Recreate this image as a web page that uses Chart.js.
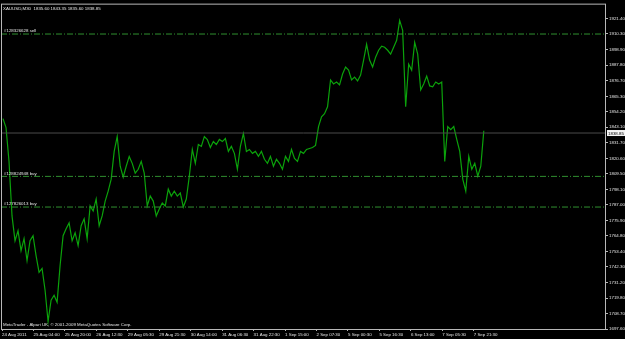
<!DOCTYPE html>
<html>
<head>
<meta charset="utf-8">
<script src="https://cdn.jsdelivr.net/npm/chart.js@4/dist/chart.umd.min.js"></script>
<style>
  html, body { margin: 0; padding: 0; background: #000; }
</style>
</head>
<body>
<canvas id="chart" width="625" height="339"></canvas>
<script>
// XAUUSD M30 closes, one sample every 3 bars
const closes = [
  1849.2, 1842.8, 1818.4, 1779.1, 1761.2, 1768.4, 1754.1, 1762.7, 1746.9, 1761.2,
  1764.8, 1750.5, 1738.4, 1741.2, 1725.5, 1703.0, 1718.3, 1721.9, 1716.9, 1743.4,
  1764.8, 1769.8, 1774.1, 1761.2, 1767.0, 1757.7, 1772.0, 1777.0, 1762.7, 1786.3,
  1782.7, 1791.3, 1772.0, 1779.1, 1789.8, 1797.0, 1805.6, 1825.6, 1836.3, 1814.9,
  1807.0, 1814.9, 1822.0, 1817.0, 1809.9, 1812.7, 1818.4, 1809.9, 1786.3, 1793.4,
  1789.8, 1779.1, 1784.1, 1788.4, 1786.3, 1798.4, 1793.4, 1797.0, 1793.4, 1795.6,
  1785.5, 1791.3, 1807.7, 1827.0, 1817.0, 1830.6, 1829.2, 1836.3, 1834.2, 1828.4,
  1832.7, 1830.6, 1834.2, 1832.7, 1834.9, 1825.6, 1829.2, 1824.2, 1812.7, 1829.2,
  1838.5, 1825.6, 1827.0, 1824.2, 1825.6, 1822.0, 1825.6, 1819.9, 1817.0, 1822.0,
  1814.9, 1819.9, 1817.0, 1812.7, 1822.0, 1818.4, 1827.0, 1820.6, 1818.4, 1825.6,
  1824.2, 1827.0, 1827.7, 1828.4, 1829.9, 1843.5, 1850.6, 1852.8, 1857.8, 1877.1,
  1874.2, 1875.6, 1873.5, 1881.4, 1886.4, 1884.2, 1877.1, 1879.2, 1876.4, 1880.6,
  1891.4, 1902.8, 1891.4, 1886.4, 1893.5, 1898.5, 1901.4, 1900.7, 1898.5, 1895.7,
  1900.7, 1905.7, 1920.0, 1912.8, 1857.8, 1888.5, 1884.2, 1904.2, 1895.7, 1869.9,
  1874.2, 1879.9, 1872.8, 1872.1, 1875.6, 1874.2, 1875.6, 1818.4, 1843.5, 1841.3,
  1843.5, 1834.2, 1825.6, 1805.6, 1797.0, 1822.0, 1812.7, 1817.0, 1807.7, 1814.9,
  1840.5
];
const BAR_STEP = 3;

const timeLabels = [
  "24 Aug 2011", "25 Aug 04:00", "25 Aug 20:00", "26 Aug 12:30", "29 Aug 05:30",
  "29 Aug 21:30", "30 Aug 14:00", "31 Aug 06:30", "31 Aug 22:30", "1 Sep 15:00",
  "2 Sep 07:30", "5 Sep 00:30", "5 Sep 16:30", "6 Sep 13:00", "7 Sep 05:30", "7 Sep 21:30"
];
const BARS_PER_LABEL = 31.4;

const priceTicks = [
  1921.40, 1910.30, 1898.90, 1887.80, 1876.70, 1865.30, 1854.20, 1843.10, 1831.70,
  1820.60, 1809.50, 1798.10, 1787.00, 1775.90, 1764.80, 1753.40, 1742.30, 1731.20,
  1719.80, 1708.70, 1697.60
];

const orderLevels = [1910.2, 1807.6, 1785.5];
const orderNames = ["#128326628 sell", "#128824948 buy", "#127826013 buy"];
const lastPrice = 1838.85;
const ohlc = [1835.60, 1843.35, 1835.60, 1838.85];

const X_MIN = -1, X_MAX = 603;
const Y_MIN = 1697.6, Y_MAX = 1932.1;
const FONT = { family: "'Liberation Sans', Arial, sans-serif", size: 4.4 };
const TEXT = "#e4e4e4";
const FRAME = "#b8b8b8";

const hline = (y) => [{ x: X_MIN, y: y }, { x: X_MAX, y: y }];

const datasets = [
  {
    data: hline(lastPrice),
    borderColor: "#4a4a4a",
    borderWidth: 1,
    pointRadius: 0,
  },
  ...orderLevels.map((lvl) => ({
    data: hline(lvl),
    borderColor: "#2f8f2f",
    borderWidth: 1,
    borderDash: [6, 2, 1, 2],
    pointRadius: 0,
  })),
  {
    data: closes.map((v, i) => ({ x: 1 + i * BAR_STEP, y: v })),
    borderColor: "#0ba20b",
    borderWidth: 1.2,
    pointRadius: 0,
    tension: 0,
  },
];

// terminal-style overlay: frame, header, order labels, price box
const mt4Overlay = {
  id: "mt4Overlay",
  beforeDraw(chart) {
    const ctx = chart.ctx;
    ctx.save();
    ctx.fillStyle = "#000";
    ctx.fillRect(0, 0, chart.width, chart.height);
    ctx.restore();
  },
  afterDraw(chart) {
    const { ctx, chartArea: a, scales } = chart;
    const ys = scales.y;
    ctx.save();
    ctx.strokeStyle = FRAME;
    ctx.lineWidth = 1;
    ctx.strokeRect(a.left + 0.5, a.top + 0.5, a.right - a.left - 1, a.bottom - a.top);

    ctx.font = `${FONT.size}px ${FONT.family}`;
    ctx.fillStyle = TEXT;
    ctx.textBaseline = "middle";
    ctx.textAlign = "left";
    ctx.fillText("XAUUSD,M30  " + ohlc.map((v) => v.toFixed(2)).join(" "), a.left + 2, a.top + 5);
    ctx.fillText("MetaTrader - Alpari UK, \u00a9 2001-2009 MetaQuotes Software Corp.", a.left + 2, a.bottom - 4);

    orderLevels.forEach((lvl, i) => {
      ctx.fillText(orderNames[i], a.left + 3, ys.getPixelForValue(lvl) - 3);
    });

    // current price box on the right scale
    const py = ys.getPixelForValue(lastPrice);
    ctx.fillStyle = "#f4f4f4";
    ctx.fillRect(a.right + 1, py - 3, 19, 6);
    ctx.fillStyle = "#000";
    ctx.fillText(lastPrice.toFixed(2), a.right + 2, py + 0.3);
    ctx.restore();
  },
};

new Chart(document.getElementById("chart"), {
  type: "line",
  data: { datasets },
  options: {
    responsive: false,
    devicePixelRatio: 1,
    animation: false,
    parsing: true,
    layout: { padding: { top: 1, left: 1, right: 0, bottom: 0 } },
    plugins: { legend: { display: false }, tooltip: { enabled: false } },
    scales: {
      x: {
        type: "linear",
        min: X_MIN,
        max: X_MAX,
        afterBuildTicks: (s) => {
          s.ticks = timeLabels.map((_, i) => ({ value: i * BARS_PER_LABEL }));
        },
        afterFit: (s) => { s.height = 10; },
        grid: { drawOnChartArea: false, color: FRAME, tickLength: 2 },
        border: { display: false },
        ticks: {
          autoSkip: false,
          maxRotation: 0,
          align: "start",
          padding: 1,
          color: TEXT,
          font: FONT,
          callback: (v, i) => timeLabels[i],
        },
      },
      y: {
        position: "right",
        min: Y_MIN,
        max: Y_MAX,
        afterBuildTicks: (s) => {
          s.ticks = priceTicks.map((v) => ({ value: v }));
        },
        afterFit: (s) => { s.width = 19; },
        grid: { drawOnChartArea: false, color: FRAME, tickLength: 2 },
        border: { display: false },
        ticks: {
          autoSkip: false,
          padding: 1,
          color: TEXT,
          font: FONT,
          callback: (v) => Number(v).toFixed(2),
        },
      },
    },
  },
  plugins: [mt4Overlay],
});
</script>
</body>
</html>
